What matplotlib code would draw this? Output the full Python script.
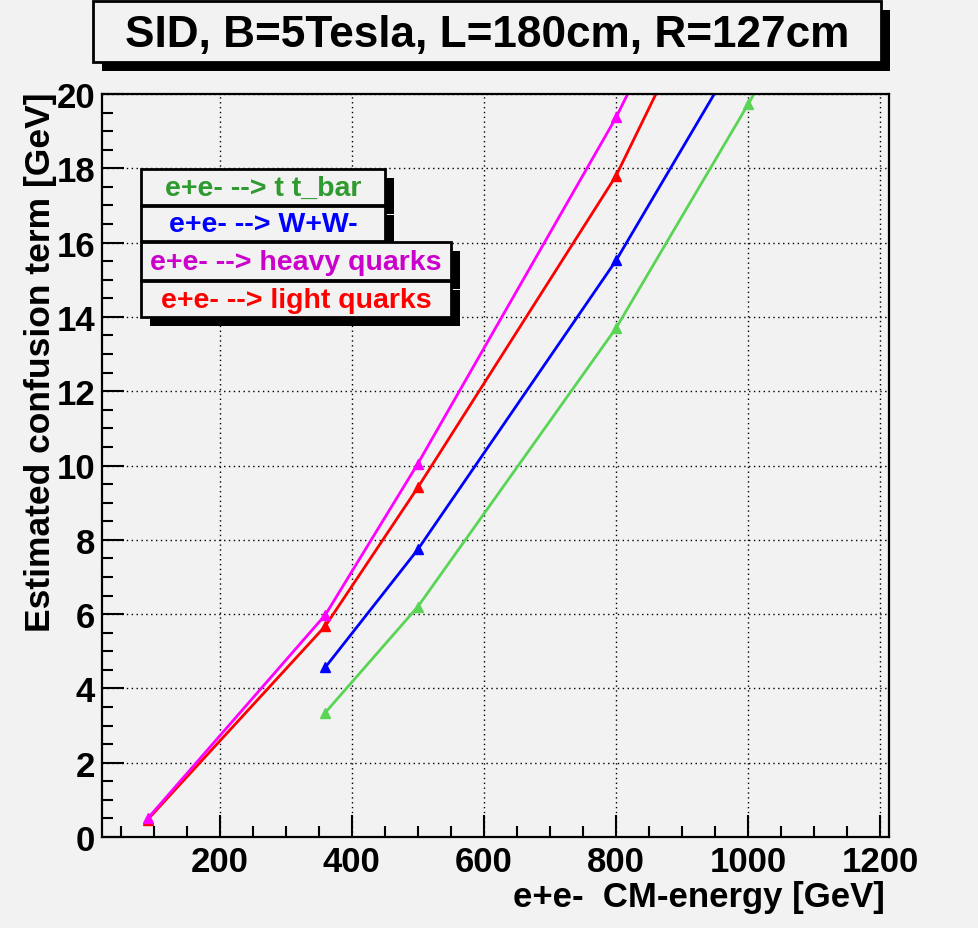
import matplotlib
matplotlib.use("Agg")
import matplotlib.pyplot as plt
import matplotlib.ticker as mticker
from matplotlib.patches import Rectangle

W, H = 979, 929
BG = "#f2f2f2"

# confusion term vs. CM energy, one list pair per process
ttbar_e = [360, 500, 800, 1000, 1200]
ttbar_c = [3.35, 6.2, 13.7, 19.73, 26.0]
ww_e = [360, 500, 800, 1000]
ww_c = [4.57, 7.74, 15.52, 21.55]
light_e = [91.2, 360, 500, 800, 1000]
light_c = [0.47, 5.68, 9.41, 17.8, 25.1]
heavy_e = [91.2, 360, 500, 800, 1000]
heavy_c = [0.5, 5.98, 10.05, 19.37, 26.6]

labels = ["e+e- --> t t_bar", "e+e- --> W+W-",
          "e+e- --> heavy quarks", "e+e- --> light quarks"]
label_colors = ["#2f9a2f", "#0000ff", "#cc00cc", "#ff0000"]

TITLE = "SID, B=5Tesla, L=180cm, R=127cm"
FONT = ["Liberation Sans", "DejaVu Sans"]

plt.rcParams["font.family"] = FONT
plt.rcParams["font.weight"] = "bold"


def fx(x):
    return x / W


def fy(y):
    return 1 - y / H


def shadow_box(fig, x0, y0, x1, y1, z, off=9):
    """ROOT-style pave: black drop shadow + framed box (pixel coords, y down)."""
    fig.add_artist(Rectangle((fx(x0 + off), fy(y1 + off)), fx(x1 - x0), (y1 - y0) / H,
                             transform=fig.transFigure, facecolor="black",
                             edgecolor="none", zorder=z))
    fig.add_artist(Rectangle((fx(x0), fy(y1)), fx(x1 - x0), (y1 - y0) / H,
                             transform=fig.transFigure, facecolor=BG,
                             edgecolor="black", linewidth=2, zorder=z + 0.5))


fig = plt.figure(figsize=(W / 100, H / 100), dpi=100, facecolor=BG)
ax = fig.add_axes([fx(102), fy(838), fx(889 - 102), (838 - 95) / H])
ax.set_facecolor(BG)

ax.plot(ttbar_e, ttbar_c, color="#59d454", lw=2.0, marker="^", ms=7)
ax.plot(ww_e, ww_c, color="#0000ff", lw=2.0, marker="^", ms=7)
ax.plot(light_e, light_c, color="#ff0000", lw=2.0, marker="^", ms=7)
ax.plot(heavy_e, heavy_c, color="#ff00ff", lw=2.0, marker="^", ms=7)

ax.set_xlim(22, 1213)
ax.set_ylim(0, 20)
ax.xaxis.set_major_locator(mticker.MultipleLocator(200))
ax.xaxis.set_minor_locator(mticker.MultipleLocator(50))
ax.yaxis.set_major_locator(mticker.MultipleLocator(2))
ax.yaxis.set_minor_locator(mticker.MultipleLocator(0.5))
ax.tick_params(which="both", direction="in", top=False, right=False,
               width=1.5, labelsize=25)
ax.tick_params(which="major", length=16)
ax.tick_params(which="minor", length=8)
ax.tick_params(axis="x", pad=6)
ax.tick_params(axis="y", pad=5)
for lab in ax.get_xticklabels() + ax.get_yticklabels():
    lab.set_fontweight("bold")
for sp in ax.spines.values():
    sp.set_linewidth(1.6)
ax.grid(True, which="major", color="black", linestyle=(0, (1, 2.5)), linewidth=1.0)

fig.text(fx(885), fy(898), "e+e-  CM-energy [GeV]", ha="right", va="center",
         fontsize=25, fontweight="bold")
fig.text(fx(41), fy(92), "Estimated confusion term [GeV]", rotation=90,
         ha="center", va="top", fontsize=25.5, fontweight="bold")

# title pave
shadow_box(fig, 93, 2, 881, 63, z=5, off=9)
fig.text(fx(487), fy(36), TITLE, ha="center", va="center", fontsize=31.8,
         fontweight="bold", zorder=7)

# legend paves, one per process
boxes = [(141, 170, 385, 206), (141, 207, 385, 242),
         (141, 243, 451, 281), (141, 282, 451, 318)]
for i, ((x0, y0, x1, y1), lab, col) in enumerate(zip(boxes, labels, label_colors)):
    shadow_box(fig, x0, y0, x1, y1, z=10 + i, off=9)
    fig.text(fx((x0 + x1) / 2), fy((y0 + y1) / 2 + 1), lab, ha="center", va="center",
             fontsize=20.5, fontweight="bold", color=col, zorder=10.8 + i)

fig.savefig("out.png", dpi=100, facecolor=BG)
